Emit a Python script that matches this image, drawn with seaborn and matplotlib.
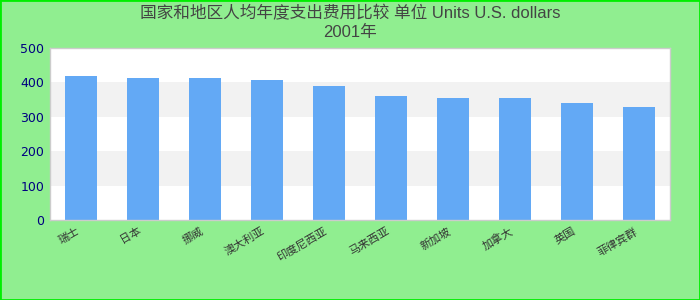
import matplotlib
matplotlib.use("Agg")
import matplotlib.pyplot as plt
import seaborn as sns
import pandas as pd
from matplotlib.patches import Rectangle

categories = ["瑞士", "日本", "挪威", "澳大利亚", "印度尼西亚", "马来西亚", "新加坡", "加拿大", "英国", "菲律宾群"]
values = [420, 413, 413, 407, 390, 360, 355, 355, 340, 328]
yticks = [0, 100, 200, 300, 400, 500]
title_line1 = "国家和地区人均年度支出费用比较 单位 Units U.S. dollars"
title_line2 = "2001年"

sns.set_theme(style="white")
plt.rcParams['font.family'] = ['DejaVu Sans', 'Noto Sans CJK SC']
cjk = ['Noto Sans CJK SC', 'DejaVu Sans']
title_fam = ['Liberation Sans', 'Noto Sans CJK SC']

df = pd.DataFrame({"cat": categories, "val": values})

fig = plt.figure(figsize=(7, 3), dpi=100, facecolor="#90ee90")
ax = fig.add_axes([50/700, 1-220/300, 620/700, 172/300])
ax.set_facecolor("white")

# alternating bands
for lo in (100, 300):
    ax.axhspan(lo, lo + 100, color="#f2f2f2", zorder=0, lw=0)

sns.barplot(data=df, x="cat", y="val", color="#63a9f5", width=0.52, saturation=1,
            linewidth=0, edgecolor="none", ax=ax, zorder=2)

ax.set_ylim(0, 500)
ax.set_xlim(-0.5, len(categories) - 0.5)
ax.set_yticks(yticks)
ax.set_yticklabels([str(t) for t in yticks], color="#000080", fontsize=9)
ax.set_xticks(range(len(categories)))
ax.set_xticklabels(categories, rotation=30, ha="right", fontsize=8, color="#333333", family=cjk)
ax.tick_params(axis="both", length=0, pad=4)
ax.set_xlabel("")
ax.set_ylabel("")
for s in ax.spines.values():
    s.set_color("#cccccc")
    s.set_linewidth(1)

fig.text(0.5, 1 - 13/300, title_line1, ha="center", va="center", fontsize=12, color="#444444", family=title_fam)
fig.text(0.5, 1 - 32/300, title_line2, ha="center", va="center", fontsize=12, color="#444444", family=title_fam)

fig.patches.append(Rectangle((0, 0), 1, 1, transform=fig.transFigure, fill=False,
                             edgecolor="#00ee00", linewidth=2, zorder=10))

fig.savefig("out.png", dpi=100, facecolor=fig.get_facecolor())
